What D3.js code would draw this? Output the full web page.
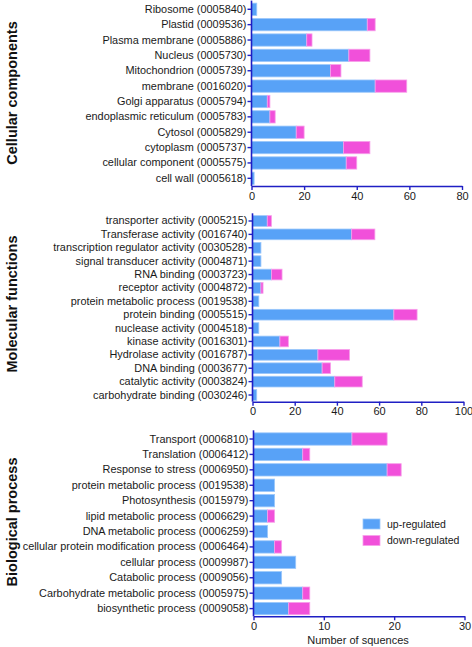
<!DOCTYPE html>
<html>
<head>
<meta charset="utf-8">
<script src="https://cdn.jsdelivr.net/npm/d3@7"></script>
<style>
  body { margin: 0; background: #fff; }
  text { font-family: "Liberation Sans", Arial, sans-serif; }
</style>
</head>
<body>
<script>
// chart data
var ccCategories = ["Ribosome (0005840)", "Plastid (0009536)", "Plasma membrane (0005886)", "Nucleus (0005730)",
  "Mitochondrion (0005739)", "membrane (0016020)", "Golgi apparatus (0005794)", "endoplasmic reticulum (0005783)",
  "Cytosol (0005829)", "cytoplasm (0005737)", "cellular component (0005575)", "cell wall (0005618)"];
var ccUp   = [2, 44, 21, 37, 30, 47, 6, 7, 17, 35, 36, 1];
var ccDown = [0, 3, 2, 8, 4, 12, 1, 2, 3, 10, 4, 0];

var mfCategories = ["transporter activity (0005215)", "Transferase activity (0016740)",
  "transcription regulator activity (0030528)", "signal transducer activity (0004871)", "RNA binding (0003723)",
  "receptor activity (0004872)", "protein metabolic process (0019538)", "protein binding (0005515)",
  "nuclease activity (0004518)", "kinase activity (0016301)", "Hydrolase activity (0016787)",
  "DNA binding (0003677)", "catalytic activity (0003824)", "carbohydrate binding (0030246)"];
var mfUp   = [7, 47, 4, 4, 9, 4, 3, 67, 3, 13, 31, 33, 39, 2];
var mfDown = [2, 11, 0, 0, 5, 1, 0, 11, 0, 4, 15, 4, 13, 0];

var bpCategories = ["Transport (0006810)", "Translation (0006412)", "Response to stress (0006950)",
  "protein metabolic process (0019538)", "Photosynthesis (0015979)", "lipid metabolic process (0006629)",
  "DNA metabolic process (0006259)", "cellular protein modification process (0006464)",
  "cellular process (0009987)", "Catabolic process (0009056)", "Carbohydrate metabolic process (0005975)",
  "biosynthetic process (0009058)"];
var bpUp   = [14, 7, 19, 3, 3, 2, 2, 3, 6, 4, 7, 5];
var bpDown = [5, 1, 2, 0, 0, 1, 0, 1, 0, 0, 1, 3];

var ccTicks = [0, 20, 40, 60, 80];
var mfTicks = [0, 20, 40, 60, 80, 100];
var bpTicks = [0, 10, 20, 30];

var seriesNames = ["up-regulated", "down-regulated"];

// colours
var upColor = "#58a2f7", upEdge = "#9cc8fb";
var downColor = "#f150da", downEdge = "#f7a0ea";
var axisColor = "#1f1fc4";

var w = 472, h = 647;

var svg = d3.select("body").append("svg")
    .attr("width", w)
    .attr("height", h);

// one panel = one horizontal stacked bar chart
function drawPanel(cfg) {
  var g = svg.append("g").attr("class", "panel");

  var x = d3.scaleLinear()
      .domain([0, cfg.ticks[cfg.ticks.length - 1]])
      .range([cfg.left, cfg.right]);

  var y = d3.scaleBand()
      .domain(cfg.categories)
      .range([cfg.top, cfg.bottom])
      .paddingInner(0.2)
      .paddingOuter(0.1);

  var rows = cfg.categories.map(function(c, i) {
    return { cat: c, up: cfg.up[i], down: cfg.down[i] };
  });

  // up-regulated part
  g.selectAll(".up").data(rows).enter().append("rect")
      .attr("class", "up")
      .attr("x", x(0))
      .attr("y", function(d) { return y(d.cat); })
      .attr("width", function(d) { return x(d.up) - x(0); })
      .attr("height", y.bandwidth())
      .style("fill", upColor)
      .style("stroke", upEdge)
      .style("stroke-width", 0.8);

  // down-regulated part, stacked after it
  g.selectAll(".down").data(rows.filter(function(d) { return d.down > 0; })).enter().append("rect")
      .attr("class", "down")
      .attr("x", function(d) { return x(d.up); })
      .attr("y", function(d) { return y(d.cat); })
      .attr("width", function(d) { return x(d.up + d.down) - x(d.up); })
      .attr("height", y.bandwidth())
      .style("fill", downColor)
      .style("stroke", downEdge)
      .style("stroke-width", 0.8);

  // y axis with category labels
  var yAxis = g.append("g")
      .attr("transform", "translate(" + cfg.left + ",0)")
      .call(d3.axisLeft(y).tickSize(4).tickPadding(1).tickSizeOuter(0));
  yAxis.select(".domain")
      .attr("d", "M0," + (cfg.top - 1) + "V" + cfg.bottom);

  // x axis
  var xAxis = g.append("g")
      .attr("transform", "translate(0," + cfg.bottom + ")")
      .call(d3.axisBottom(x).tickValues(cfg.ticks).tickSize(4).tickPadding(2).tickSizeOuter(0));

  [yAxis, xAxis].forEach(function(a) {
    a.select(".domain").style("stroke", axisColor).style("stroke-width", 1.6);
    a.selectAll(".tick line").style("stroke", axisColor).style("stroke-width", 1.4);
  });
  yAxis.selectAll(".tick text")
      .style("font-size", "10.9px")
      .style("fill", "#1a1a1a");
  xAxis.selectAll(".tick text")
      .style("font-size", "11px")
      .style("fill", "#1a1a1a");

  // panel title, rotated
  g.append("text")
      .attr("class", "panelTitle")
      .attr("transform", "translate(17," + cfg.titleY + ") rotate(-90)")
      .attr("text-anchor", "middle")
      .style("font-size", "14.5px")
      .style("font-weight", "bold")
      .style("fill", "#111")
      .text(cfg.title);

  return { x: x, y: y };
}

drawPanel({
  title: "Cellular components", titleY: 93,
  categories: ccCategories, up: ccUp, down: ccDown, ticks: ccTicks,
  left: 251.5, right: 462, top: 1.6, bottom: 186
});

drawPanel({
  title: "Molecular functions", titleY: 304,
  categories: mfCategories, up: mfUp, down: mfDown, ticks: mfTicks,
  left: 252.5, right: 463.5, top: 214.3, bottom: 401.7
});

var bp = drawPanel({
  title: "Biological process", titleY: 522,
  categories: bpCategories, up: bpUp, down: bpDown, ticks: bpTicks,
  left: 253.5, right: 464.5, top: 431.3, bottom: 616.3
});

// x axis title for the bottom panel
svg.append("text")
    .attr("x", 358)
    .attr("y", 644)
    .attr("text-anchor", "middle")
    .style("font-size", "11px")
    .style("fill", "#1a1a1a")
    .text("Number of squences");

// legend
var legend = svg.append("g").attr("class", "legend")
    .attr("transform", "translate(363,519)");
legend.selectAll("rect").data(seriesNames).enter().append("rect")
    .attr("x", 0)
    .attr("y", function(d, i) { return i * 16.5; })
    .attr("width", 17)
    .attr("height", 10)
    .style("fill", function(d, i) { return i === 0 ? upColor : downColor; })
    .style("stroke", function(d, i) { return i === 0 ? upEdge : downEdge; })
    .style("stroke-width", 0.8);
legend.selectAll("text").data(seriesNames).enter().append("text")
    .attr("x", 24)
    .attr("y", function(d, i) { return i * 16.5 + 5; })
    .attr("dy", "0.35em")
    .style("font-size", "10.5px")
    .style("fill", "#1a1a1a")
    .text(function(d) { return d; });
</script>
</body>
</html>
